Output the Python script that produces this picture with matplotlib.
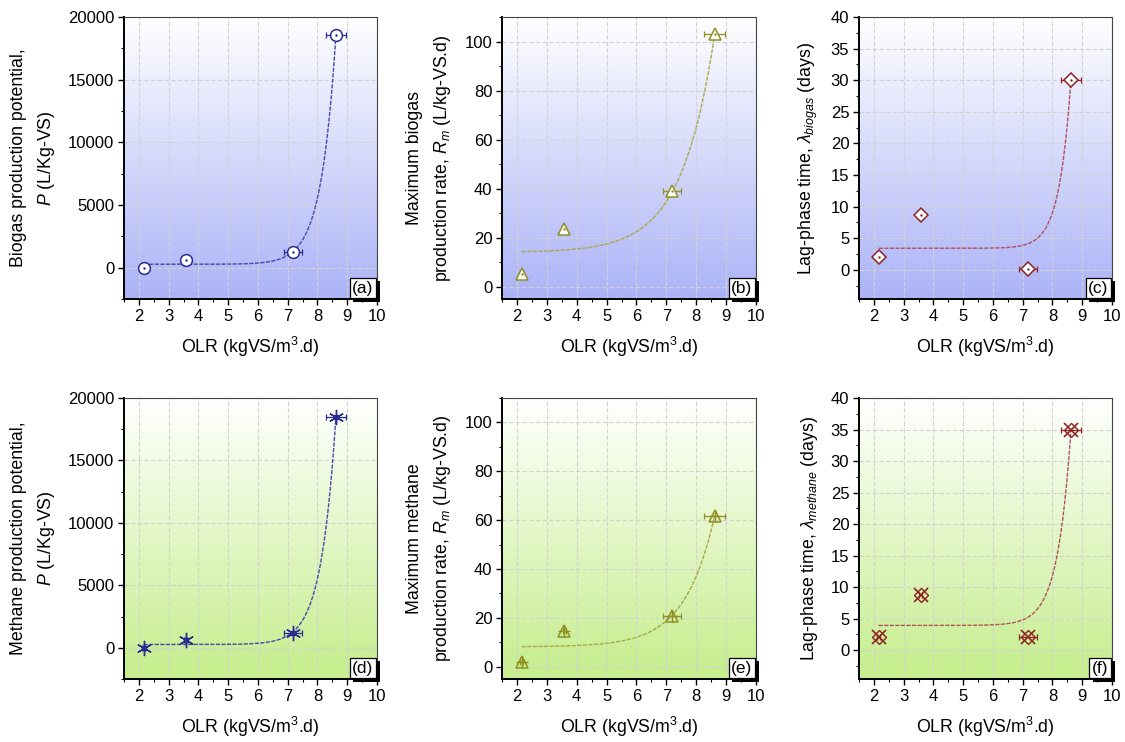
import numpy as np
import matplotlib
matplotlib.use("Agg")
import matplotlib.pyplot as plt
import matplotlib.patheffects as pe
from matplotlib.colors import LinearSegmentedColormap
from matplotlib.ticker import MultipleLocator

plt.rcParams['font.family'] = ['Liberation Sans', 'DejaVu Sans']
plt.rcParams['mathtext.fontset'] = 'custom'
plt.rcParams['mathtext.rm'] = 'Liberation Sans'
plt.rcParams['mathtext.it'] = 'Liberation Sans:italic'
plt.rcParams['mathtext.bf'] = 'Liberation Sans:bold'

# ---------------- data ----------------
olr = [2.16, 3.58, 7.19, 8.62]
olr_err = [0.05, 0.05, 0.30, 0.35]

biogas_P = [0, 640, 1220, 18550]
biogas_Rm = [5.3, 23.7, 39.0, 102.9]
biogas_lag = [2.0, 8.7, 0.2, 30.1]

methane_P = [0, 610, 1220, 18500]
methane_Rm = [2.1, 14.8, 20.9, 61.9]
methane_lag = [2.1, 8.8, 2.0, 35.0]

# growth constants of the exponential fits  y = a + b*exp(c*x)
fit_c = {'a': 2.0, 'b': 0.9, 'c': 2.5, 'd': 2.0, 'e': 1.0, 'f': 2.2}

panel_labels = ['(a)', '(b)', '(c)', '(d)', '(e)', '(f)']
ylabels = [
    'Biogas production potential,\n$P$ (L/Kg-VS)',
    'Maximum biogas\nproduction rate, $R_m$ (L/kg-VS.d)',
    r'Lag-phase time, $\lambda_{biogas}$ (days)',
    'Methane production potential,\n$P$ (L/Kg-VS)',
    'Maximum methane\nproduction rate, $R_m$ (L/kg-VS.d)',
    r'Lag-phase time, $\lambda_{methane}$ (days)',
]
xlabel = 'OLR (kgVS/m$^3$.d)'

ylims = [(-2500, 20000), (-5, 110), (-4.6, 40), (-2500, 20000), (-5, 110), (-4.6, 40)]
ymajor = [5000, 20, 5, 5000, 20, 5]
xticks = [2, 3, 4, 5, 6, 7, 8, 9, 10]

# ---------------- figure ----------------
W, H = 1125, 742
fig = plt.figure(figsize=(W / 100, H / 100), dpi=100)

lefts = [124, 502, 859]
widths = [253, 254, 253]
row_tops = [17, 398]
row_h = [282, 281]

blue = '#abb3f7'
green = '#c5ee8c'
cmap_blue = LinearSegmentedColormap.from_list('b', [blue, '#ffffff'])
cmap_green = LinearSegmentedColormap.from_list('g', [green, '#ffffff'])

navy = '#2b2b8f'
olive = '#8f8f22'
dred = '#8f2222'
curve_cols = ['#4848a8', '#a8a848', '#b05060']

series = [biogas_P, biogas_Rm, biogas_lag, methane_P, methane_Rm, methane_lag]
keys = ['a', 'b', 'c', 'd', 'e', 'f']


def fit_curve(x, y, c):
    x = np.asarray(x, float)
    y = np.asarray(y, float)
    A = np.column_stack([np.ones_like(x), np.exp(c * x)])
    (a, b), *_ = np.linalg.lstsq(A, y, rcond=None)
    xs = np.linspace(x.min(), x.max(), 300)
    return xs, a + b * np.exp(c * xs)


for i in range(6):
    r, col = divmod(i, 3)
    left = lefts[col] / W
    bottom = 1 - (row_tops[r] + row_h[r]) / H
    ax = fig.add_axes([left, bottom, widths[col] / W, row_h[r] / H])

    grad = np.linspace(0, 1, 256).reshape(-1, 1)
    ax.imshow(grad, cmap=cmap_blue if r == 0 else cmap_green, aspect='auto',
              extent=[0, 1, 0, 1], transform=ax.transAxes, origin='lower',
              zorder=0, interpolation='bicubic')

    ax.set_xlim(1.5, 10.0)
    ax.set_xticks(xticks)
    ax.xaxis.set_minor_locator(MultipleLocator(0.5))
    ax.yaxis.set_major_locator(MultipleLocator(ymajor[i]))
    ax.yaxis.set_minor_locator(MultipleLocator(ymajor[i] / 2))
    ax.set_ylim(*ylims[i])
    ax.grid(True, which='major', color='#d2d2d2', linestyle=(0, (4, 2)), lw=0.8, zorder=1)
    ax.set_axisbelow(True)
    ax.tick_params(axis='both', which='major', direction='out', length=4, width=1,
                   labelsize=12, pad=3, colors='black')
    ax.tick_params(axis='both', which='minor', direction='out', length=2.5, width=0.8)
    for s in ['left', 'bottom']:
        ax.spines[s].set_linewidth(1.4)
        ax.spines[s].set_color('black')
    for s in ['top', 'right']:
        ax.spines[s].set_linewidth(0.8)
        ax.spines[s].set_color('#444444')

    y = series[i]
    xs, ys = fit_curve(olr, y, fit_c[keys[i]])
    ax.plot(xs, ys, color=curve_cols[col], lw=1.0, ls=(0, (3, 1)), zorder=3)

    ecol = [navy, olive, dred][col]
    ax.errorbar(olr, y, xerr=olr_err, fmt='none', ecolor=ecol, elinewidth=0.9,
                capsize=2.5, capthick=0.9, zorder=4)
    if r == 0:
        mk = ['o', '^', 'D'][col]
        ms = [8.5, 9, 7.5][col]
        ax.plot(olr, y, ls='none', marker=mk, ms=ms, mfc='white', mec=ecol, mew=1.1, zorder=5)
        ax.plot(olr, y, ls='none', marker='.', ms=1.5, color=ecol, zorder=6)
    else:
        if col == 0:
            ax.plot(olr, y, ls='none', marker=(6, 2, 0), ms=11, mec=ecol, mew=1.0, zorder=5)
            ax.plot(olr, y, ls='none', marker='s', ms=3, color=ecol, zorder=6)
        elif col == 1:
            ax.plot(olr, y, ls='none', marker='^', ms=9, mfc='none', mec=ecol, mew=1.1, zorder=5)
            ax.plot(olr, y, ls='none', marker='+', ms=9, mec=ecol, mew=1.0, zorder=6)
        else:
            ax.plot(olr, y, ls='none', marker='D', ms=7.5, mfc='none', mec=ecol, mew=1.0, zorder=5)
            ax.plot(olr, y, ls='none', marker='x', ms=9.5, mec=ecol, mew=1.2, zorder=6)

    ax.set_xlabel(xlabel, fontsize=12.8, labelpad=8)
    ax.set_ylabel(ylabels[i], fontsize=12.8, labelpad=8, linespacing=1.6)

    t = ax.annotate(panel_labels[i], xy=(1, 0), xycoords='axes fraction',
                    xytext=(-2.5, 2.5), textcoords='offset points', ha='right', va='bottom',
                    fontsize=12.5, zorder=10, annotation_clip=False,
                    bbox=dict(boxstyle='square,pad=0.15', fc='white', ec='black', lw=0.9))
    t.get_bbox_patch().set_path_effects([
        pe.SimplePatchShadow(offset=(2.5, -2.5), shadow_rgbFace='black', alpha=1.0),
        pe.Normal()])

fig.savefig('out.png', dpi=100)
